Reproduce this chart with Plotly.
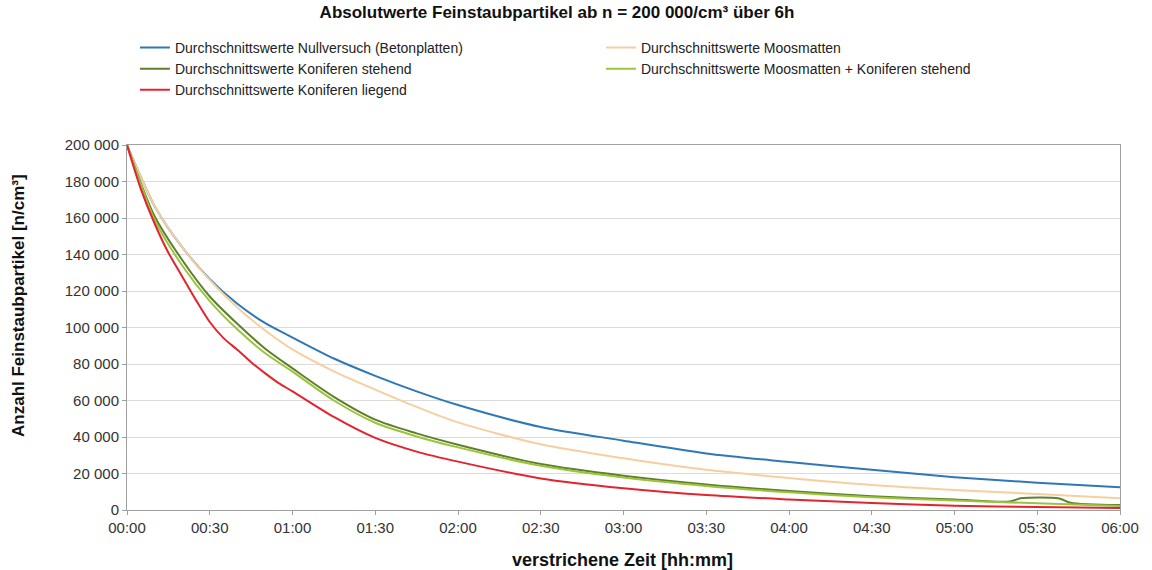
import plotly.graph_objects as go

# time in minutes since start
t_blue = [0, 5, 10, 20, 30, 40, 50, 60, 75, 90, 105, 120, 150, 180, 210, 240, 270, 300, 330, 360]
blue = [200000, 182500, 166500, 144000, 126500, 113000, 102500, 94500, 83000, 73500, 65000, 57500,
        45500, 38000, 31000, 26300, 22000, 18000, 15000, 12500]

t_orange = [0, 5, 10, 20, 30, 40, 50, 60, 75, 90, 105, 120, 150, 180, 210, 240, 270, 300, 330, 360]
orange = [200000, 182500, 166500, 144000, 126000, 111000, 98500, 88000, 76000, 66000, 56500, 48000,
          36000, 28300, 22000, 17500, 13700, 11000, 8800, 6500]

t_dgreen = [0, 5, 10, 20, 30, 40, 50, 60, 75, 90, 105, 120, 150, 180, 210, 240, 270, 300, 320, 324, 338, 342, 360]
dgreen = [200000, 179000, 161000, 137000, 117000, 102000, 88500, 77600, 62000, 49500, 42000, 35800,
          25200, 18800, 14000, 10400, 7600, 5700, 4600, 6400, 6300, 4000, 2700]

t_lgreen = [0, 5, 10, 20, 30, 40, 50, 60, 75, 90, 105, 120, 150, 180, 210, 240, 270, 300, 330, 360]
lgreen = [200000, 178500, 159000, 134000, 114500, 99000, 86000, 75800, 60000, 47800, 40300, 34300,
          24200, 17800, 13200, 9700, 7000, 5200, 3700, 2200]

t_red = [0, 5, 10, 15, 20, 25, 30, 35, 40, 45, 50, 55, 60, 75, 90, 105, 120, 150, 180, 210, 240, 270, 300, 330, 360]
red = [200000, 176000, 157000, 141000, 128000, 115000, 103000, 94200, 87800, 81000, 75000, 69500, 65000,
       51000, 39500, 32000, 26500, 17300, 11900, 8200, 5800, 3800, 2300, 1600, 1100]

series_names = [
    "Durchschnittswerte Nullversuch (Betonplatten)",
    "Durchschnittswerte Moosmatten",
    "Durchschnittswerte Koniferen stehend",
    "Durchschnittswerte Moosmatten + Koniferen stehend",
    "Durchschnittswerte Koniferen liegend",
]
x_tickvals = list(range(0, 361, 30))
x_ticktext = ["00:00", "00:30", "01:00", "01:30", "02:00", "02:30", "03:00",
              "03:30", "04:00", "04:30", "05:00", "05:30", "06:00"]
y_tickvals = list(range(0, 200001, 20000))
y_ticktext = ["0", "20 000", "40 000", "60 000", "80 000", "100 000", "120 000",
              "140 000", "160 000", "180 000", "200 000"]

colors = ["#2f78b4", "#f7cf9f", "#5e7f2c", "#9cc43a", "#e3242f"]
data = [(t_blue, blue), (t_orange, orange), (t_dgreen, dgreen), (t_lgreen, lgreen), (t_red, red)]

fig = go.Figure()
for (tx, ty), name, c in zip(data, series_names, colors):
    fig.add_trace(go.Scatter(x=tx, y=ty, mode="lines", name=name,
                             line=dict(color=c, width=2, shape="spline", smoothing=0.8)))

font = "Liberation Sans, Arial, sans-serif"
fig.update_layout(
    width=1152, height=570,
    margin=dict(l=127, r=32, t=145, b=60),
    paper_bgcolor="white", plot_bgcolor="white",
    font=dict(family=font, size=15, color="#222"),
    title=dict(text="<b>Absolutwerte Feinstaubpartikel ab n = 200 000/cm³ über 6h</b>",
               xref="container", x=0.4835, xanchor="center", y=0.99, yanchor="top",
               font=dict(size=17, family=font, color="#111")),
    showlegend=True,
    legend=dict(orientation="h", x=0.008, y=1.31, xanchor="left", yanchor="top",
                entrywidth=421, entrywidthmode="pixels", tracegroupgap=0,
                font=dict(size=14, family=font, color="#222"),
                bgcolor="rgba(0,0,0,0)", itemwidth=30),
    xaxis=dict(range=[0, 360], tickvals=x_tickvals, ticktext=x_ticktext,
               showgrid=False, showline=True, linecolor="#a0a0a0", linewidth=1,
               ticks="outside", ticklen=4, tickcolor="#a0a0a0", mirror=True,
               tickfont=dict(size=15, color="#333"),
               zeroline=False),
    yaxis=dict(range=[0, 200000], tickvals=y_tickvals, ticktext=y_ticktext,
               showgrid=True, gridcolor="#dcdcdc", gridwidth=1,
               showline=True, linecolor="#a0a0a0", linewidth=1, mirror=True,
               ticks="outside", ticklen=4, tickcolor="#a0a0a0",
               tickfont=dict(size=15, color="#333"),
               zeroline=False),
    annotations=[
        dict(text="<b>verstrichene Zeit [hh:mm]</b>", xref="paper", yref="paper",
             x=0.4985, y=-0.137, xanchor="center", yanchor="middle", showarrow=False,
             font=dict(size=18, family=font, color="#111")),
        dict(text="<b>Anzahl Feinstaubpartikel [n/cm³]</b>", xref="paper", yref="paper",
             x=-0.1098, y=0.5616, xanchor="center", yanchor="middle", showarrow=False,
             textangle=-90, font=dict(size=17, family=font, color="#111")),
    ],
)

fig.write_html("out.html")
